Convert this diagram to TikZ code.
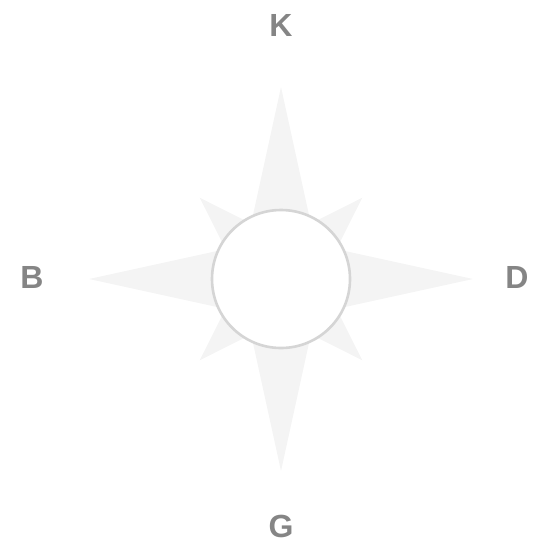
\documentclass[tikz,border=0pt]{standalone}
\usepackage{fontspec}
\setmainfont{Liberation Sans}
\definecolor{starfill}{HTML}{F4F4F4}
\definecolor{ringcol}{HTML}{D5D5D5}
\definecolor{labcol}{HTML}{858585}
\begin{document}
\begin{tikzpicture}[x=1pt,y=-1pt,
  dirlabel/.style={font=\fontsize{32}{32}\selectfont\bfseries, text=labcol, inner sep=0pt, anchor=center},
  starray/.style={fill=starfill, draw=none}]
\useasboundingbox (0,0) rectangle (545,544);
\coordinate (c) at (281,279);
% main points
\foreach \a in {0,90,180,270}{
  \fill[starray] ([shift={(\a:192)}]c) -- ([shift={(\a+90:42)}]c) -- ([shift={(\a-90:42)}]c) -- cycle;
}
% diagonal points
\foreach \a in {45,135,225,315}{
  \fill[starray] ([shift={(\a:115)}]c) -- ([shift={(\a+90:38)}]c) -- ([shift={(\a-90:38)}]c) -- cycle;
}
\node[circle, minimum size=138pt, inner sep=0pt, fill=white, draw=ringcol, line width=2.6pt] (ring) at (c) {};
\node[dirlabel] (K) at (281,25) {K};
\node[dirlabel] (B) at (32,277) {B};
\node[dirlabel] (D) at (517,277) {D};
\node[dirlabel] (G) at (281,526) {G};
\end{tikzpicture}
\end{document}
